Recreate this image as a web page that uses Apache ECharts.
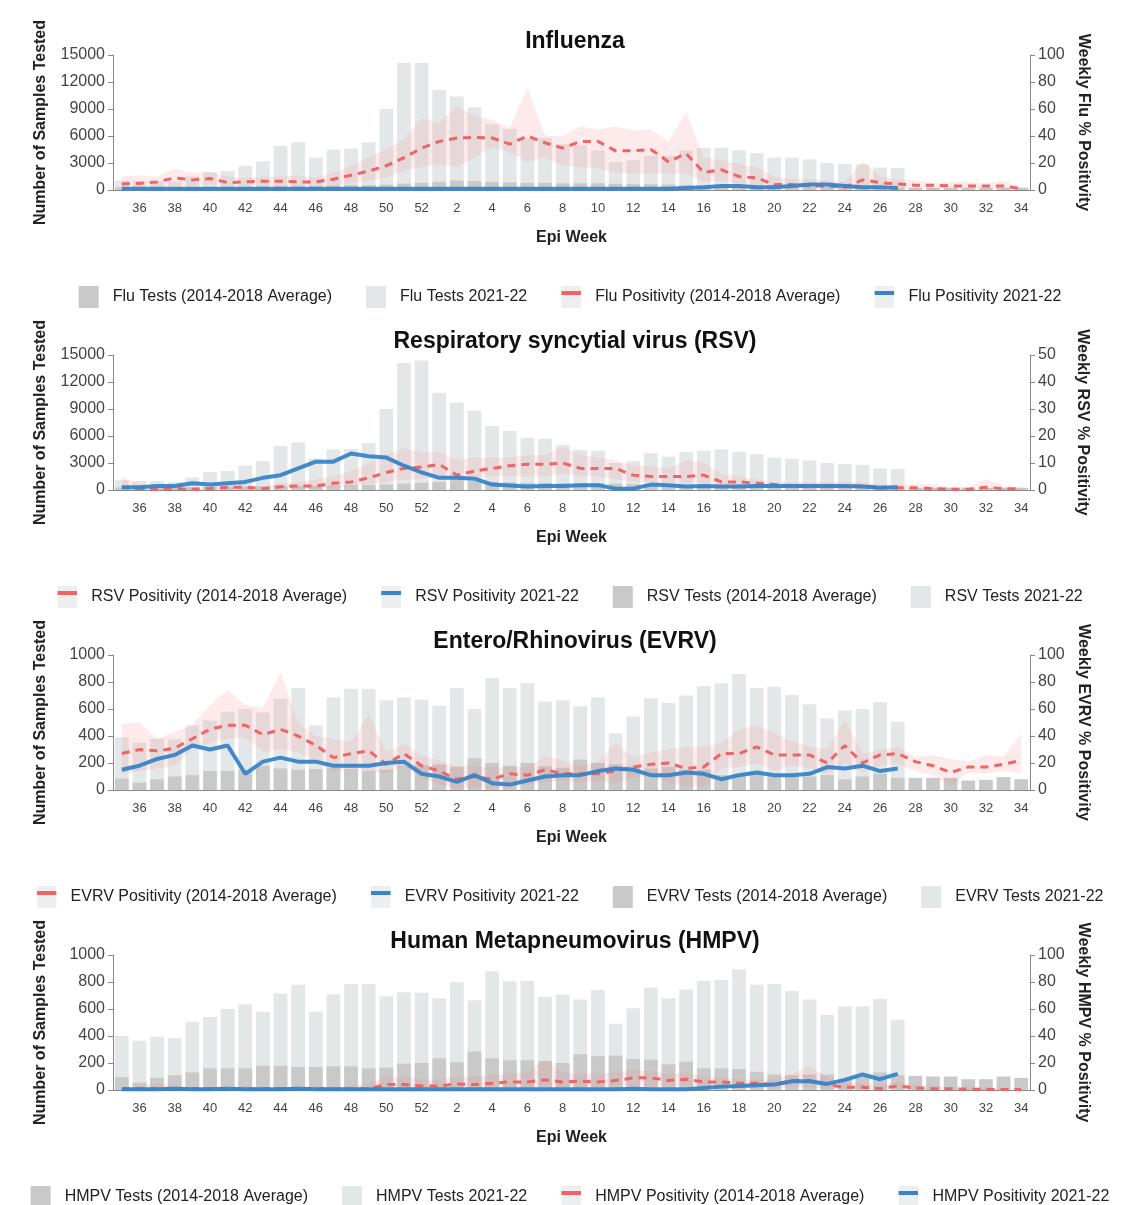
<!DOCTYPE html>
<html>
<head>
<meta charset="utf-8">
<script src="https://cdn.jsdelivr.net/npm/echarts@6/dist/echarts.min.js"></script>
<style>html,body{margin:0;padding:0;background:#fff}#chart{width:1140px;height:1205px}</style>
</head>
<body>
<div id="chart"></div>
<script>
// epi weeks 35..52 then 1..34
const weeks = [35,36,37,38,39,40,41,42,43,44,45,46,47,48,49,50,51,52,1,2,3,4,5,6,7,8,9,10,11,12,13,14,15,16,17,18,19,20,21,22,23,24,25,26,27,28,29,30,31,32,33,34].map(String);

// Influenza
const fluTestsAvg = [300,250,300,300,300,350,350,350,400,450,450,450,500,550,550,600,700,800,900,1050,1000,900,850,800,800,750,750,750,700,650,650,600,550,500,450,400,400,350,300,300,300,250,250,250,250,250,250,250,250,250,250,250];
const fluTests = [1050,1000,1000,950,1500,2000,2100,2700,3200,4900,5300,3600,4500,4600,5300,9000,14100,14100,11100,10400,9200,7300,6800,5700,5800,5100,5000,4400,3100,3300,3800,3800,4400,4700,4700,4400,4100,3600,3600,3400,3000,2900,2850,2500,2450];
const fluPosAvg = [4.5,5,6,9,7.5,8.5,5.5,6,6.5,6.5,6,6,8,11,14,18,24,31,36,38.5,39,38.5,34,40,35,31,36,36,29,29,30,21,27,13,15,10,9,4,4,3,3,2,7.5,5.5,4.5,3.5,3.5,3,3,3,3,1];
const fluPosHigh = [10,11,10,16,13,13,10,9,10,10,11,9,13,18,24,30,38,53,50,62,55,52,46,76,40,40,47,45,47,44,45,36,58,24,22,19,17,10,8,8,7,6,21,10,8,7,5,6,6,5,7,2];
const fluPosLow = [1,1,2,3,3,4,2,3,3,3,3,3,3,5,7,9,14,17,19,17,24,32,28,21,24,18,17,16,13,12,12,12,12,6,7,4,3,1,1,1,1,1,2,1,1,1,1,1,1,1,1,0];
const fluPos = [1,1,1,1,1,1,1,1,1,1,1,1,1,1,1,1,1,1,1,1,1,1,1,1,1,1,1,1,1,1,1,1,1.5,2,3,3,2,2,3,4,4,3,2,2,1.5];

// RSV
const rsvTestsAvg = fluTestsAvg;
const rsvTests = [1100,1000,1000,900,1370,2000,2100,2700,3200,4900,5300,3500,4500,4550,5200,9000,14100,14400,10800,9700,8800,7100,6550,5800,5700,5000,4450,4350,3000,3200,4100,3700,4250,4350,4500,4250,3950,3600,3450,3300,3000,2900,2800,2400,2350];
const rsvPosAvg = [1,0.5,0.3,0.5,0.3,0.5,1,1,0.5,1.2,1.5,1.5,2.5,3,4.5,6.5,8,8.5,9.5,5.5,7,8,9,9.5,9.5,10,8,8,8,5.5,5,5,5,5.5,3,3,2.5,2,1.5,1.5,1.5,1.5,1.5,1,0.8,0.8,0.5,0.3,0.3,1,0.5,0.5];
const rsvPosHigh = [5,2,1,1,1,1.5,2,2,1.5,2.5,3,4,5,7,10,13,15.5,14,14,11,12,12,12,13,13,16,13,12,11,9,9,8,11,10,6,5,4,3,3,3,3,3,3,2,2,2,2,1,1,4,1.5,1];
const rsvPosLow = [0,0,0,0,0,0,0,0,0,0.5,0.5,0.5,1,1.5,2,3,4,4,5,3,4,5,5,5,5,6,5,5,4,3,3,2.5,2.5,2.5,1.5,1.5,1,1,0.5,0.5,0.5,0.5,0.5,0.3,0.2,0.2,0,0,0,0,0,0];
const rsvPos = [1,1,1.5,1.5,2.5,2,2.5,3,4.5,5.5,8,10.5,10.5,13.5,12.5,12,9,6.5,4.5,4.5,4.2,2,1.7,1.3,1.5,1.5,1.8,1.8,0.5,0.5,2,1.8,1.3,1.5,1.3,1.3,1.5,1.5,1.5,1.5,1.5,1.5,1.3,0.8,1];

// EVRV
const evrvTestsAvg = [85,55,80,100,110,140,140,150,180,160,150,155,165,155,140,150,180,185,190,170,235,200,180,200,175,165,225,200,190,175,160,170,150,150,110,120,120,100,100,100,110,80,100,120,90,90,90,90,70,75,95,80];
const evrvTests = [390,350,380,375,480,515,580,600,575,675,755,480,685,750,750,665,685,670,625,755,600,830,755,790,655,665,620,685,420,545,680,645,700,770,790,860,755,765,705,635,530,590,600,650,505];
const evrvPosAvg = [27,30,29,31,38,45,48,48,41,45,40,33,24,27,29,19,27,18,14,8,10,8,12,11,15,12,12,12,14,17,19,20,16,17,27,27,32,26,26,26,20,33,20,26,27,21,18,13,17,17,19,22];
const evrvPosHigh = [49,50,38,43,48,63,74,63,61,87,50,40,38,36,56,28,34,26,22,18,18,17,17,17,25,22,18,21,35,24,28,30,32,32,35,45,48,42,36,32,30,52,27,30,32,24,26,23,21,26,25,42];
const evrvPosLow = [12,14,16,18,30,35,38,39,28,30,28,20,14,15,14,12,18,9,4,1,2,1,2,4,6,7,5,7,5,9,10,5,3,2,16,17,20,14,18,16,12,20,13,18,19,14,11,3,13,12,14,12];
const evrvPos = [15,18,23,26,33,30,33,12,21,24,21,21,18,18,18,20,21,12,10,6,11,5,4,7,10,11,11,14,16,15,11,11,13,12,8,11,13,11,11,12,17,16,18,14,16];

// HMPV
const hmpvTestsAvg = [95,55,90,110,130,160,160,160,180,180,170,170,175,175,160,165,195,200,235,205,285,235,220,220,215,200,265,250,255,230,225,190,210,160,160,155,135,115,110,115,115,75,95,130,110,105,100,100,80,80,100,90];
const hmpvTests = [400,365,395,385,505,540,600,635,580,715,780,580,710,785,785,695,725,720,680,800,665,880,805,810,690,705,670,740,490,605,760,680,745,810,815,895,780,785,735,670,555,620,620,675,520];
const hmpvPosAvg = [1,1,1,1,1,1,1,1,1,1,1,1,1,1,1,4,4,3,3,4.5,4,5,6,6,7.5,6,6.5,6,7,9,9,7,8,6,6,5,5,4,7,7,4,2,2,1,3,1.5,1,1,0.5,0.5,0.3,0.3];
const hmpvPosHigh = [2,3,5,3,2,2,2,2,2,2,2,2,2,3,5,10,10,8,8,10,10,11,12,13,23,13,12,12,13,15,14,12,13,10,9,8,8,8,12,18,9,6,5,4,6,4,3,2,2,2,1,1];
const hmpvPosLow = [0,0,0,0,0,0,0,0,0,0,0,0,0,0,0,1,1,1,1,1.5,1,2,2,2,2.5,2,2,2,2.5,3,3,2.5,3,2,2,1.5,1.5,1,2,2,1,0.5,0.5,0.3,1,0.5,0.3,0.3,0,0,0,0];
const hmpvPos = [0.5,0.5,0.5,1,0.5,0.5,1,0.5,0.5,0.5,1,0.5,0.5,0.5,0.5,0.5,0.5,0.5,0.5,0.5,0.5,0.5,0.5,0.5,0.5,0.5,0.5,0.5,0.5,1,0.5,0.5,0.5,1.5,2.5,3,3.5,4,6.5,6.5,4.5,7.5,11.5,8,12];

const panels = [
  {title:'Influenza', short:'Flu', leftMax:15000, leftInt:3000, rightMax:100, rightInt:20,
   tAvg:fluTestsAvg, t:fluTests, pAvg:fluPosAvg, hi:fluPosHigh, lo:fluPosLow, p:fluPos, order:'tests'},
  {title:'Respiratory syncytial virus (RSV)', short:'RSV', leftMax:15000, leftInt:3000, rightMax:50, rightInt:10,
   tAvg:rsvTestsAvg, t:rsvTests, pAvg:rsvPosAvg, hi:rsvPosHigh, lo:rsvPosLow, p:rsvPos, order:'pos'},
  {title:'Entero/Rhinovirus (EVRV)', short:'EVRV', leftMax:1000, leftInt:200, rightMax:100, rightInt:20,
   tAvg:evrvTestsAvg, t:evrvTests, pAvg:evrvPosAvg, hi:evrvPosHigh, lo:evrvPosLow, p:evrvPos, order:'pos'},
  {title:'Human Metapneumovirus (HMPV)', short:'HMPV', leftMax:1000, leftInt:200, rightMax:100, rightInt:20,
   tAvg:hmpvTestsAvg, t:hmpvTests, pAvg:hmpvPosAvg, hi:hmpvPosHigh, lo:hmpvPosLow, p:hmpvPos, order:'tests'}
];

const font = 'Liberation Sans, Arial, sans-serif';
const axisGrey = '#888';
const lineIcon = (c) => 'image://data:image/svg+xml;utf8,' + encodeURIComponent(
  '<svg xmlns="http://www.w3.org/2000/svg" width="20" height="22"><rect width="20" height="22" fill="#eceeef"/><rect y="5" width="20" height="4" fill="' + c + '"/></svg>');
const option = {animation:false, textStyle:{fontFamily:font}, title:[], grid:[], xAxis:[], yAxis:[], legend:[], series:[]};

panels.forEach((pn, i) => {
  const off = i * 300;
  option.title.push({text:pn.title, left:570, textAlign:'center', top:25 + off,
    textStyle:{fontSize:23, fontWeight:'bold', color:'#111', fontFamily:font}});
  option.grid.push({left:113, right:110, top:55 + off, height:135});
  option.xAxis.push({type:'category', gridIndex:i, data:weeks, name:'Epi Week', nameLocation:'middle', nameGap:40,
    nameTextStyle:{fontSize:16, fontWeight:'bold', color:'#222'},
    axisLine:{lineStyle:{color:axisGrey}}, axisTick:{interval:0, lineStyle:{color:axisGrey}},
    axisLabel:{interval:(idx) => idx % 2 === 1, fontSize:13, color:'#444', margin:12}});
  option.yAxis.push({type:'value', gridIndex:i, min:0, max:pn.leftMax, interval:pn.leftInt,
    name:'Number of Samples Tested', nameLocation:'middle', nameGap:64,
    nameTextStyle:{fontSize:16, fontWeight:'bold', color:'#222'},
    axisLine:{show:true, lineStyle:{color:axisGrey}}, axisTick:{show:true, lineStyle:{color:axisGrey}},
    splitLine:{show:false}, axisLabel:{fontSize:16, color:'#444', formatter:(v) => String(v)}});
  option.yAxis.push({type:'value', gridIndex:i, position:'right', min:0, max:pn.rightMax, interval:pn.rightInt,
    name:'Weekly ' + pn.short + ' % Positivity', nameLocation:'middle', nameGap:44, nameRotate:-90,
    nameTextStyle:{fontSize:16, fontWeight:'bold', color:'#222'},
    axisLine:{show:true, lineStyle:{color:axisGrey}}, axisTick:{show:true, lineStyle:{color:axisGrey}},
    splitLine:{show:false}, axisLabel:{fontSize:16, color:'#444'}});

  const nTA = pn.short + ' Tests (2014-2018 Average)';
  const nT = pn.short + ' Tests 2021-22';
  const nPA = pn.short + ' Positivity (2014-2018 Average)';
  const nP = pn.short + ' Positivity 2021-22';
  const icons = {};
  icons[nTA] = 'rect'; icons[nT] = 'rect';
  icons[nPA] = lineIcon('#f06464'); icons[nP] = lineIcon('#3784c8');
  const names = pn.order === 'tests' ? [nTA, nT, nPA, nP] : [nPA, nP, nTA, nT];
  option.legend.push({top:281 + off, left:'center', itemGap:34, itemWidth:20, itemHeight:22,
    textStyle:{fontSize:16, color:'#222', padding:[0,0,0,9]},
    data:names.map(n => ({name:n, icon:icons[n]}))});

  const xi = i, yl = 2 * i, yr = 2 * i + 1;
  option.series.push(
    {name:nT, type:'bar', xAxisIndex:xi, yAxisIndex:yl, data:pn.t, barWidth:'78%', barGap:'-100%',
     itemStyle:{color:'#e4e7e8'}, z:1},
    {name:nTA, type:'bar', xAxisIndex:xi, yAxisIndex:yl, data:pn.tAvg, barWidth:'78%', barGap:'-100%',
     itemStyle:{color:'#c9c9c9'}, z:2},
    {name:'lo' + i, type:'line', xAxisIndex:xi, yAxisIndex:yr, data:pn.lo, stack:'band' + i,
     symbol:'none', lineStyle:{opacity:0}, silent:true, z:3},
    {name:'band' + i, type:'line', xAxisIndex:xi, yAxisIndex:yr, data:pn.hi.map((v, k) => v - pn.lo[k]),
     stack:'band' + i, symbol:'none', lineStyle:{opacity:0}, areaStyle:{color:'rgba(245,140,140,0.25)'}, silent:true, z:3},
    {name:nPA, type:'line', xAxisIndex:xi, yAxisIndex:yr, data:pn.pAvg, symbol:'none',
     itemStyle:{color:'#f06464'}, lineStyle:{color:'#f06464', width:3, type:[8,6]}, z:4},
    {name:nP, type:'line', xAxisIndex:xi, yAxisIndex:yr, data:pn.p, symbol:'none',
     itemStyle:{color:'#3784c8'}, lineStyle:{color:'#3784c8', width:4, opacity:0.95}, z:5}
  );
});

const chart = echarts.init(document.getElementById('chart'));
chart.setOption(option);
</script>
</body>
</html>
